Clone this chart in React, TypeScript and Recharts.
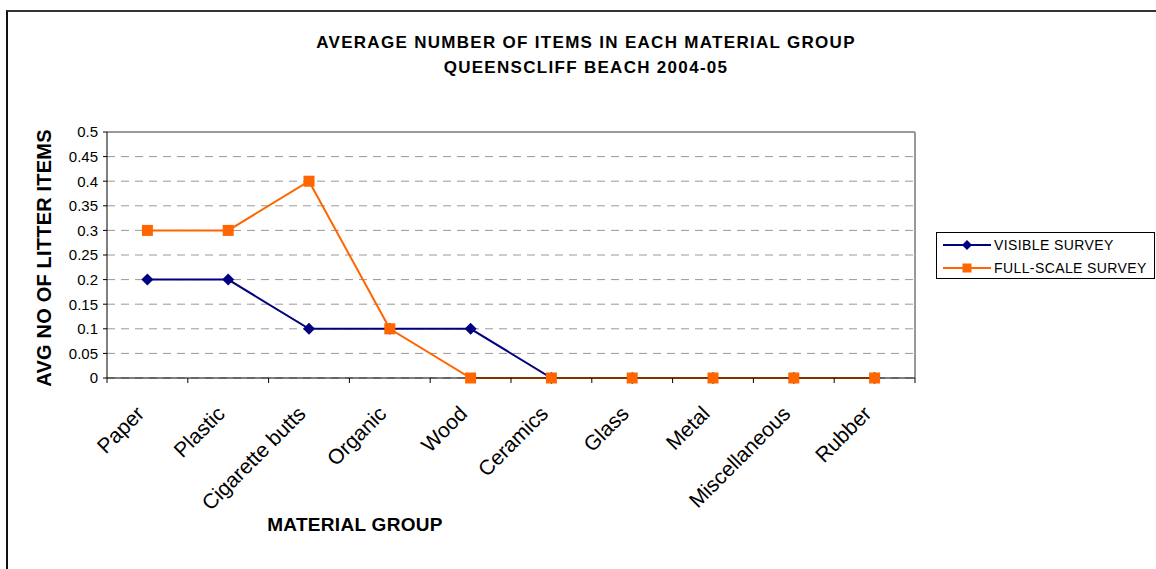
import React from 'react';
import { LineChart, Line, XAxis, YAxis, CartesianGrid, ReferenceLine } from 'recharts';

const categories = ['Paper', 'Plastic', 'Cigarette butts', 'Organic', 'Wood', 'Ceramics', 'Glass', 'Metal', 'Miscellaneous', 'Rubber'];
const visibleSurvey = [0.2, 0.2, 0.1, 0.1, 0.1, 0, 0, 0, 0, 0];
const fullScaleSurvey = [0.3, 0.3, 0.4, 0.1, 0, 0, 0, 0, 0, 0];
const yTicks = [0, 0.05, 0.1, 0.15, 0.2, 0.25, 0.3, 0.35, 0.4, 0.45, 0.5];

const FONT = '"Liberation Sans", Arial, sans-serif';
const NAVY = '#000080';
const ORANGE = '#FF6600';

const chartData = categories.map((name, i) => ({
  name,
  visible: visibleSurvey[i],
  full: fullScaleSurvey[i],
}));

const Diamond = ({ cx, cy }: any) => {
  if (cx == null || cy == null) return null;
  return <path d={`M${cx},${cy - 6} L${cx + 6},${cy} L${cx},${cy + 6} L${cx - 6},${cy} Z`} fill={NAVY} />;
};

const Square = ({ cx, cy }: any) => {
  if (cx == null || cy == null) return null;
  return <rect x={cx - 5.5} y={cy - 5.5} width={11} height={11} fill={ORANGE} />;
};

// label plus Excel-style tick marks on the category boundaries
const CategoryTick = ({ x, y, payload, index }: any) => {
  const half = payload.offset || 0;
  const ax = x - 2;
  const ay = y + 37;
  return (
    <g>
      <line x1={x - half} y1={y} x2={x - half} y2={y + 5} stroke="#000" />
      {index === categories.length - 1 && <line x1={x + half} y1={y} x2={x + half} y2={y + 5} stroke="#000" />}
      <text x={ax} y={ay} transform={`rotate(-45 ${ax} ${ay})`} textAnchor="end" fontSize={21} fontFamily={FONT} fill="#000">
        {payload.value}
      </text>
    </g>
  );
};

const LegendBox = () => (
  <div style={{ border: '1px solid #000', width: 217, height: 45, fontFamily: FONT, fontSize: 14, letterSpacing: 0.4, background: '#fff' }}>
    {[
      { label: 'VISIBLE SURVEY', color: NAVY, shape: 'd' },
      { label: 'FULL-SCALE SURVEY', color: ORANGE, shape: 's' },
    ].map((it, i) => (
      <div key={it.label} style={{ display: 'flex', alignItems: 'center', height: 24, marginTop: i === 0 ? 0 : -1 }}>
        <svg width={56} height={14} style={{ marginLeft: 6 }}>
          <line x1={0} y1={7} x2={48} y2={7} stroke={it.color} strokeWidth={2} />
          {it.shape === 'd'
            ? <path d="M24,2 L29,7 L24,12 L19,7 Z" fill={it.color} />
            : <rect x={19.5} y={2.5} width={9} height={9} fill={it.color} />}
        </svg>
        <span style={{ marginLeft: -5, color: '#000' }}>{it.label}</span>
      </div>
    ))}
  </div>
);

export default function App() {
  return (
    <div style={{ position: 'absolute', left: 0, top: 0, width: 1156, height: 569, overflow: 'hidden', background: '#fff' }}>
      <div style={{ position: 'absolute', left: 6, top: 10, width: 1200, height: 600, borderTop: '2px solid #333', borderLeft: '2px solid #111' }} />
      <div style={{ position: 'absolute', left: 0, top: 30, width: 1172, textAlign: 'center', fontFamily: FONT, fontWeight: 'bold', fontSize: 17, lineHeight: '25px', letterSpacing: 1.3, color: '#000' }}>
        <div>AVERAGE NUMBER OF ITEMS IN EACH MATERIAL GROUP</div>
        <div>QUEENSCLIFF BEACH 2004-05</div>
      </div>
      <div style={{ position: 'absolute', left: 44, top: 258, transform: 'translate(-50%, -50%) rotate(-90deg)', whiteSpace: 'nowrap', fontFamily: FONT, fontWeight: 'bold', fontSize: 20, lineHeight: '20px', letterSpacing: 0.2, color: '#000' }}>
        AVG NO OF LITTER ITEMS
      </div>
      <div style={{ position: 'absolute', left: 355, top: 524, transform: 'translate(-50%, -50%)', whiteSpace: 'nowrap', fontFamily: FONT, fontWeight: 'bold', fontSize: 19, lineHeight: '19px', letterSpacing: 0.3, color: '#000' }}>
        MATERIAL GROUP
      </div>
      <div style={{ position: 'absolute', left: 0, top: 0 }}>
        <LineChart width={1156} height={569} data={chartData} margin={{ top: 132, right: 241, bottom: 91, left: 47 }}>
          <CartesianGrid vertical={false} stroke="#999" strokeDasharray="8 6" />
          <XAxis
            dataKey="name"
            scale="band"
            interval={0}
            stroke="#000"
            tickLine={false}
            tickSize={0}
            tickMargin={0}
            height={100}
            tick={<CategoryTick />}
          />
          <YAxis
            width={60}
            domain={[0, 0.5]}
            ticks={yTicks}
            interval={0}
            stroke="#000"
            tickSize={4}
            tickMargin={5}
            tick={{ fill: '#000', fontSize: 15, fontFamily: FONT }}
          />
          <ReferenceLine y={0.5} stroke="#999" strokeWidth={2} />
          <ReferenceLine x="Rubber" position="end" stroke="#999" strokeWidth={2} />
          <Line
            type="linear"
            dataKey="visible"
            name="VISIBLE SURVEY"
            stroke={NAVY}
            strokeWidth={2}
            dot={(p: any) => <Diamond key={`d${p.index}`} {...p} />}
            activeDot={false}
            isAnimationActive={false}
          />
          <Line
            type="linear"
            dataKey="full"
            name="FULL-SCALE SURVEY"
            stroke={ORANGE}
            strokeWidth={2}
            dot={(p: any) => <Square key={`s${p.index}`} {...p} />}
            activeDot={false}
            isAnimationActive={false}
          />
        </LineChart>
      </div>
      <div style={{ position: 'absolute', left: 936, top: 232 }}>
        <LegendBox />
      </div>
    </div>
  );
}
